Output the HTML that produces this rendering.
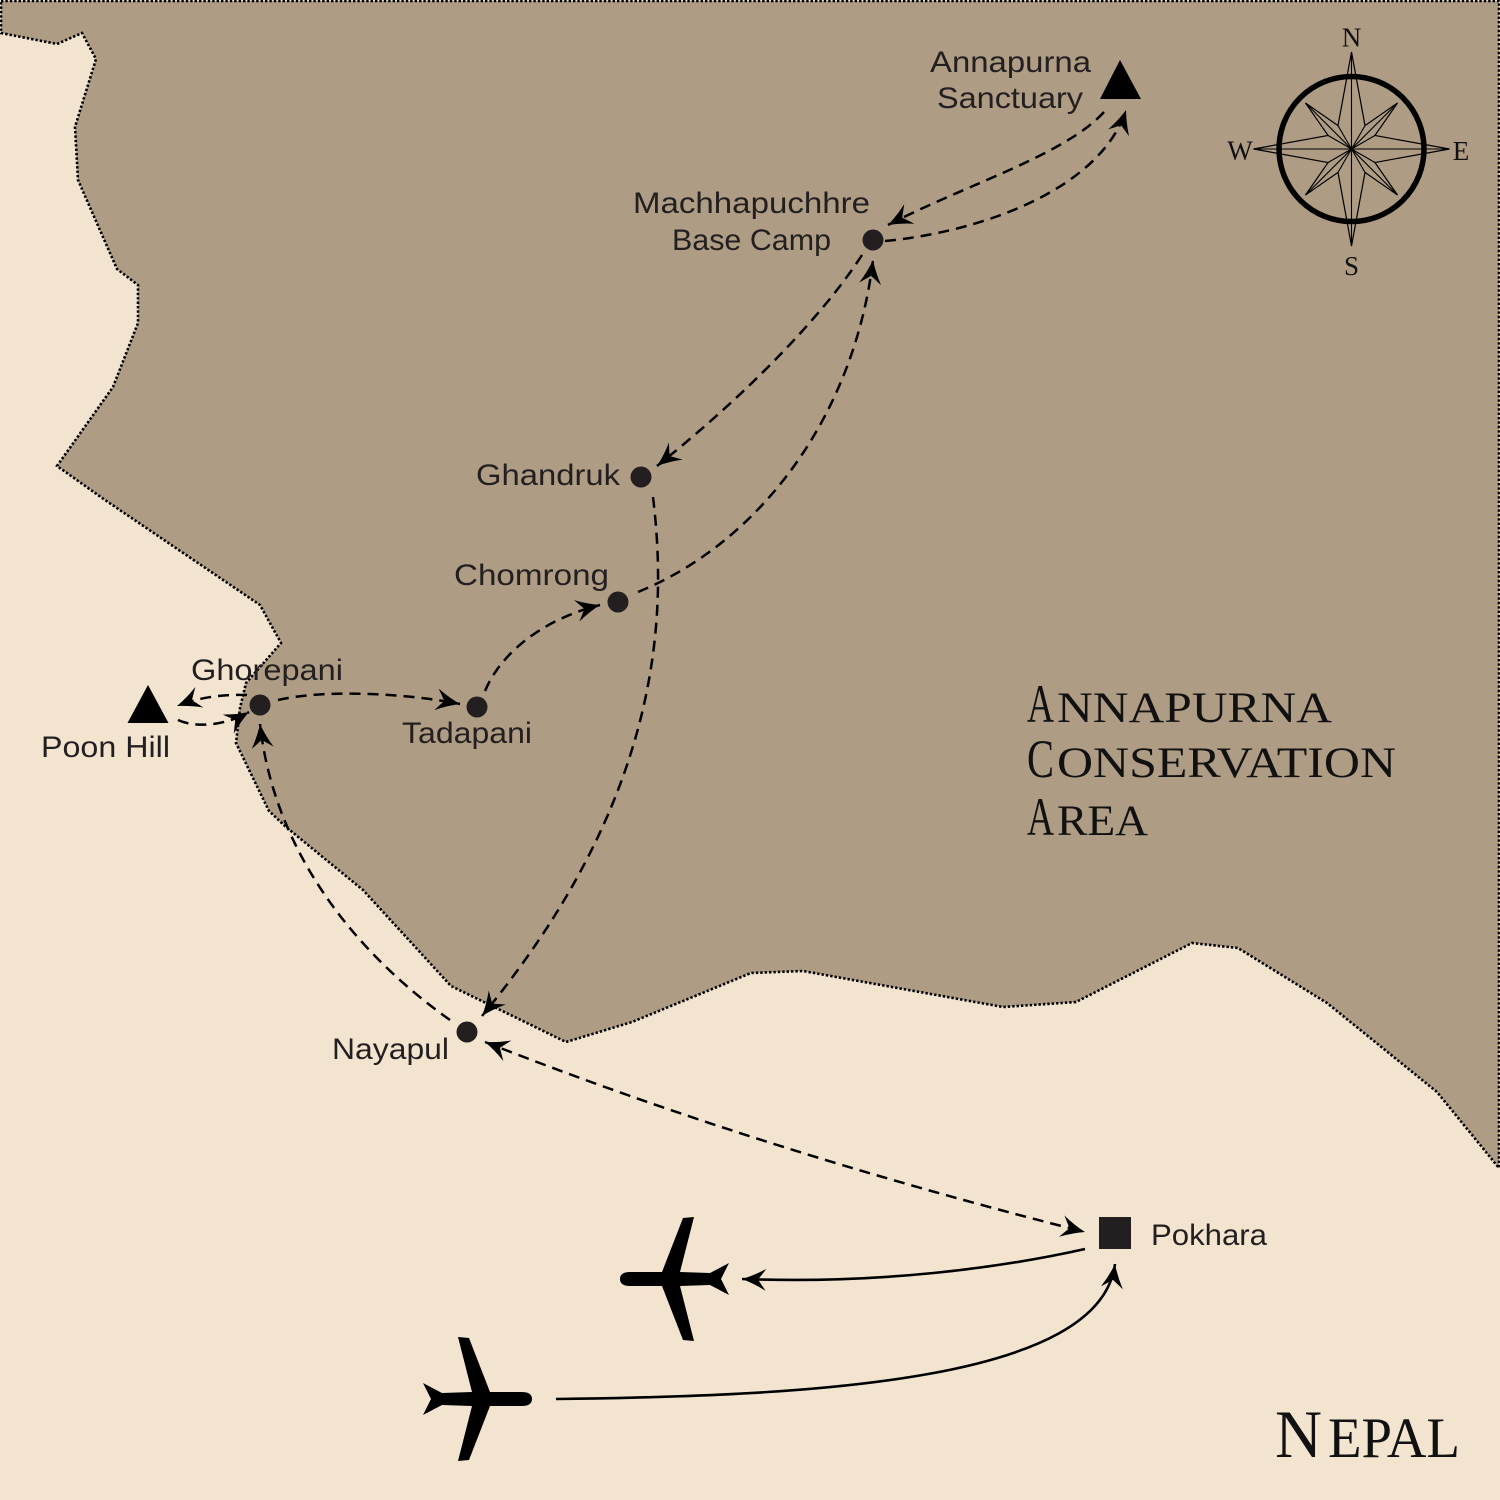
<!DOCTYPE html>
<html>
<head>
<meta charset="utf-8">
<style>
html,body{margin:0;padding:0;background:#f3e4d0;}
svg{display:block;}
.lbl{font-family:"Liberation Sans",Arial,sans-serif;font-size:30px;fill:#231f20;}
.ser{font-family:"Liberation Serif","Times New Roman",serif;fill:#111;}
.dash{fill:none;stroke:#000;stroke-width:2.5;stroke-dasharray:11 7;}
.solid{fill:none;stroke:#000;stroke-width:2.6;}
</style>
</head>
<body>
<svg width="1500" height="1500" viewBox="0 0 1500 1500" xmlns="http://www.w3.org/2000/svg">
<defs>
<marker id="ah" viewBox="-28 -14 30 28" refX="0" refY="0" markerWidth="30" markerHeight="28" markerUnits="userSpaceOnUse" orient="auto-start-reverse" overflow="visible">
<path d="M0,0 Q-12,-4 -24,-11 L-16,0 L-24,11 Q-12,4 0,0 Z" fill="#000"/>
</marker>
</defs>

<rect x="0" y="0" width="1500" height="1500" fill="#f3e4d0"/>

<!-- conservation area -->
<polygon fill="#ae9c84" stroke="#000" stroke-width="2.6" stroke-dasharray="2.4 2"
points="1,1 1499,1 1499,1168 1437,1092 1327,1003 1238,948 1192,943 1076,1002 1003,1007 803,971 751,973 632,1022 566,1042 451,986 363,890 286,827 269,811 236,743 240,708 246,683 281,643 260,605 105,500 57,466 113,387 138,323 138,285 117,269 78,180 75,127 96,59 82,33 57,44 1,33"/>

<!-- compass -->
<g>
<circle cx="1351.5" cy="149" r="72.5" fill="none" stroke="#000" stroke-width="5.5"/>
<polygon fill="none" stroke="#000" stroke-width="1.2" stroke-linejoin="miter"
points="1351.5,52 1365,125.6 1397.5,103 1374.9,135.5 1449.5,149 1374.9,162.5 1397.5,195 1365,172.4 1351.5,246 1338,172.4 1305.5,195 1328.1,162.5 1253.5,149 1328.1,135.5 1305.5,103 1338,125.6"/>
<g stroke="#000" stroke-width="1.1">
<line x1="1351.5" y1="52" x2="1351.5" y2="246"/>
<line x1="1253.5" y1="149" x2="1449.5" y2="149"/>
<line x1="1305.5" y1="103" x2="1397.5" y2="195"/>
<line x1="1397.5" y1="103" x2="1305.5" y2="195"/>
<line x1="1351.5" y1="149" x2="1365" y2="125.6"/>
<line x1="1351.5" y1="149" x2="1374.9" y2="135.5"/>
<line x1="1351.5" y1="149" x2="1374.9" y2="162.5"/>
<line x1="1351.5" y1="149" x2="1365" y2="172.4"/>
<line x1="1351.5" y1="149" x2="1338" y2="172.4"/>
<line x1="1351.5" y1="149" x2="1328.1" y2="162.5"/>
<line x1="1351.5" y1="149" x2="1328.1" y2="135.5"/>
<line x1="1351.5" y1="149" x2="1338" y2="125.6"/>
</g>
<text class="ser" x="1351.5" y="46.5" font-size="27" text-anchor="middle">N</text>
<text class="ser" x="1240" y="159.5" font-size="27" text-anchor="middle">W</text>
<text class="ser" x="1461" y="160" font-size="27" text-anchor="middle">E</text>
<text class="ser" x="1351.5" y="275" font-size="27" text-anchor="middle">S</text>
</g>

<!-- dashed routes -->
<path class="dash" marker-end="url(#ah)" d="M1104,112 C1065,155 965,185 888,225"/>
<path class="dash" marker-end="url(#ah)" d="M885,241 C980,232 1100,190 1126,110"/>
<path class="dash" marker-end="url(#ah)" d="M862,255 C820,320 740,400 657,466"/>
<path class="dash" marker-end="url(#ah)" d="M638,592 C765,540 855,410 873,260"/>
<path class="dash" marker-end="url(#ah)" d="M653,497 C668,620 660,800 482,1016"/>
<path class="dash" marker-end="url(#ah)" d="M485,691 C500,655 540,620 600,605"/>
<path class="dash" marker-end="url(#ah)" d="M278,700 C320,690 400,692 460,704"/>
<path class="dash" marker-end="url(#ah)" d="M247,695 C225,694 200,697 177,706"/>
<path class="dash" marker-end="url(#ah)" d="M178,720 C195,728 225,726 249,712"/>
<path class="dash" marker-end="url(#ah)" d="M450,1020 C365,960 275,860 260,724"/>
<path class="dash" marker-start="url(#ah)" marker-end="url(#ah)" d="M485,1042 Q760,1150 1085,1232"/>

<!-- solid flight routes -->
<path class="solid" marker-end="url(#ah)" d="M1085,1249 C1000,1268 880,1284 742,1279"/>
<path class="solid" marker-end="url(#ah)" d="M556,1399 C820,1396 1100,1380 1115,1264"/>

<!-- airplanes -->
<g fill="#000">
<path transform="translate(620,1279) scale(-1,1)" d="M0,0 C0,-5 -4,-7 -10,-7 L-42,-7 L-63,-61 L-74,-62 L-60,-7 L-90,-6 L-109,-16 L-101,0 L-109,16 L-90,6 L-60,7 L-74,62 L-63,61 L-42,7 L-10,7 C-4,7 0,5 0,0 Z"/>
<path transform="translate(532,1399)" d="M0,0 C0,-5 -4,-7 -10,-7 L-42,-7 L-63,-61 L-74,-62 L-60,-7 L-90,-6 L-109,-16 L-101,0 L-109,16 L-90,6 L-60,7 L-74,62 L-63,61 L-42,7 L-10,7 C-4,7 0,5 0,0 Z"/>
</g>

<!-- markers -->
<g fill="#231f20">
<circle cx="873" cy="240" r="10.5"/>
<circle cx="641" cy="477" r="10.5"/>
<circle cx="618" cy="602" r="10.5"/>
<circle cx="260" cy="705" r="10.5"/>
<circle cx="477" cy="707" r="10.5"/>
<circle cx="467" cy="1032" r="10.5"/>
<rect x="1099" y="1217" width="32" height="32"/>
</g>
<polygon points="1120,60 1100,99 1141,99" fill="#000"/>
<polygon points="148,685 127.5,723 168.5,723" fill="#000"/>

<!-- labels -->
<text class="lbl" x="930" y="72" textLength="161" lengthAdjust="spacingAndGlyphs">Annapurna</text>
<text class="lbl" x="937" y="108" textLength="146" lengthAdjust="spacingAndGlyphs">Sanctuary</text>
<text class="lbl" x="633" y="213" textLength="237" lengthAdjust="spacingAndGlyphs">Machhapuchhre</text>
<text class="lbl" x="672" y="250" textLength="159" lengthAdjust="spacingAndGlyphs">Base Camp</text>
<text class="lbl" x="476" y="485" textLength="144" lengthAdjust="spacingAndGlyphs">Ghandruk</text>
<text class="lbl" x="454" y="585" textLength="155" lengthAdjust="spacingAndGlyphs">Chomrong</text>
<text class="lbl" x="191" y="680" textLength="152" lengthAdjust="spacingAndGlyphs">Ghorepani</text>
<text class="lbl" x="402" y="743" textLength="130" lengthAdjust="spacingAndGlyphs">Tadapani</text>
<text class="lbl" x="41" y="757" textLength="129" lengthAdjust="spacingAndGlyphs">Poon Hill</text>
<text class="lbl" x="332" y="1059" textLength="117" lengthAdjust="spacingAndGlyphs">Nayapul</text>
<text class="lbl" x="1151" y="1245" textLength="116" lengthAdjust="spacingAndGlyphs">Pokhara</text>

<!-- region titles -->
<text class="ser" x="1027" y="722" font-size="54" textLength="27" lengthAdjust="spacingAndGlyphs">A</text>
<text class="ser" x="1057" y="722" font-size="43" textLength="275" lengthAdjust="spacingAndGlyphs">NNAPURNA</text>
<text class="ser" x="1027" y="777" font-size="54" textLength="27" lengthAdjust="spacingAndGlyphs">C</text>
<text class="ser" x="1057" y="777" font-size="43" textLength="339" lengthAdjust="spacingAndGlyphs">ONSERVATION</text>
<text class="ser" x="1027" y="835" font-size="54" textLength="27" lengthAdjust="spacingAndGlyphs">A</text>
<text class="ser" x="1057" y="835" font-size="43" textLength="91" lengthAdjust="spacingAndGlyphs">REA</text>

<text class="ser" x="1275" y="1457" font-size="68" textLength="47" lengthAdjust="spacingAndGlyphs">N</text>
<text class="ser" x="1328" y="1457" font-size="57" textLength="132" lengthAdjust="spacingAndGlyphs">EPAL</text>
</svg>
</body>
</html>
